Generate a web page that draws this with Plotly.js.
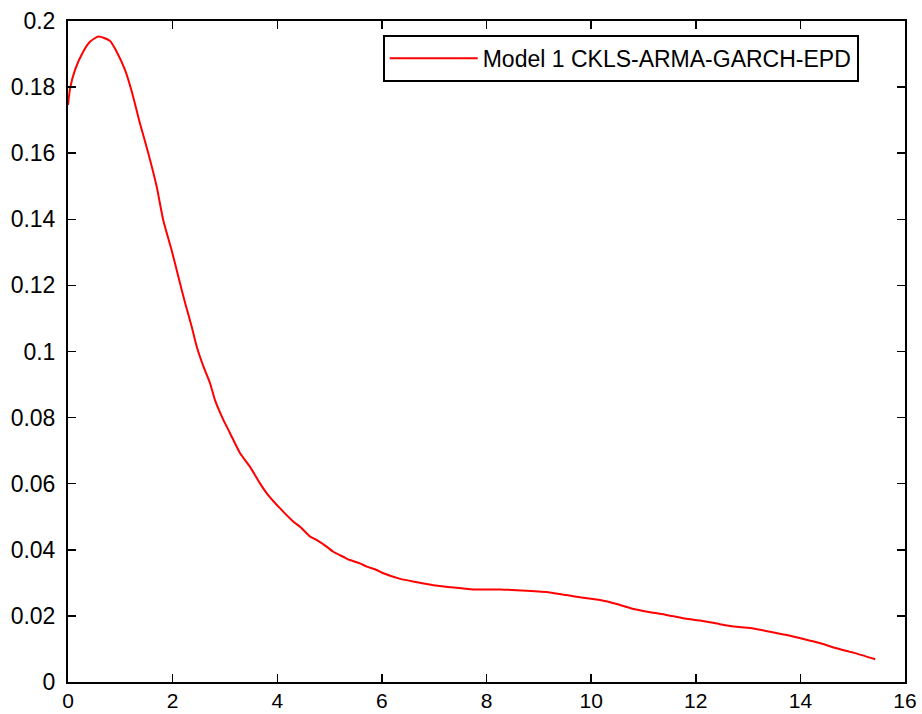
<!DOCTYPE html>
<html>
<head>
<meta charset="utf-8">
<script src="https://cdn.plot.ly/plotly-3.0.1.min.js"></script>
<style>html,body{margin:0;padding:0;background:#fff;}#chart{width:922px;height:714px;}</style>
</head>
<body>
<div id="chart"></div>
<script>
var seriesName = "Model 1 CKLS-ARMA-GARCH-EPD";
var xValues = [0, 0.04, 0.134, 0.29, 0.42, 0.58, 0.80, 0.93, 1.09, 1.22, 1.376, 1.535, 1.695, 1.82, 1.98, 2.11, 2.24, 2.365, 2.46, 2.59, 2.715, 2.81, 2.97, 3.10, 3.29, 3.48, 3.67, 3.80, 4.05, 4.31, 4.435, 4.63, 4.75, 4.95, 5.07, 5.26, 5.39, 5.58, 5.71, 5.90, 6.03, 6.35, 6.67, 6.98, 7.30, 7.75, 8.26, 8.77, 9.21, 9.53, 9.85, 10.17, 10.49, 10.81, 11.13, 11.44, 11.76, 12.08, 12.46, 12.78, 13.10, 13.42, 13.74, 14.06, 14.38, 14.69, 15.01, 15.43];
var yValues = [0.1746, 0.1796, 0.1852, 0.1907, 0.1937, 0.1953, 0.1940, 0.1907, 0.1852, 0.1786, 0.1690, 0.1600, 0.1499, 0.1398, 0.1307, 0.1226, 0.1146, 0.1075, 0.1015, 0.0954, 0.0904, 0.0853, 0.0793, 0.0752, 0.0692, 0.0651, 0.0601, 0.0571, 0.0526, 0.0485, 0.0470, 0.0440, 0.0430, 0.0409, 0.0394, 0.0379, 0.0369, 0.0359, 0.0349, 0.0339, 0.0329, 0.0312, 0.0302, 0.0293, 0.0287, 0.0280, 0.0280, 0.0276, 0.0271, 0.0263, 0.0255, 0.0248, 0.0236, 0.0221, 0.0211, 0.0203, 0.0193, 0.0186, 0.0175, 0.0167, 0.0162, 0.0152, 0.0142, 0.0130, 0.0117, 0.0102, 0.0089, 0.0069];
var xTickVals = [0, 2, 4, 6, 8, 10, 12, 14, 16];
var xTickText = ["0", "2", "4", "6", "8", "10", "12", "14", "16"];
var yTickVals = [0, 0.02, 0.04, 0.06, 0.08, 0.1, 0.12, 0.14, 0.16, 0.18, 0.2];
var yTickText = ["0", "0.02", "0.04", "0.06", "0.08", "0.1", "0.12", "0.14", "0.16", "0.18", "0.2"];

var trace = {
  x: xValues, y: yValues, type: "scatter", mode: "lines", name: seriesName,
  line: {color: "#ff0000", width: 2, shape: "spline", smoothing: 0.6}
};

var fontFamily = "Liberation Sans, Arial, sans-serif";

var axisCommon = {
  showgrid: false, zeroline: false, showline: true, linecolor: "#000", linewidth: 2,
  mirror: "allticks", ticks: "inside", ticklen: 8, tickwidth: 1.5, tickcolor: "#000",
  fixedrange: true
};

var layout = {
  width: 922, height: 714,
  margin: {l: 68, r: 17, t: 21, b: 32, pad: 0},
  paper_bgcolor: "#fff", plot_bgcolor: "#fff",
  font: {family: fontFamily, size: 23, color: "#000"},
  showlegend: true,
  legend: {
    x: 0.376, y: 0.979, xanchor: "left", yanchor: "top",
    bgcolor: "#fff", bordercolor: "#000", borderwidth: 2,
    font: {family: fontFamily, size: 23, color: "#000"},
    itemwidth: 88, entrywidth: 472
  },
  xaxis: Object.assign({}, axisCommon, {range: [0, 16], tickmode: "array", tickvals: xTickVals, ticktext: xTickText,
    tickfont: {family: fontFamily, size: 21, color: "#000"}, ticklabelstandoff: -1}),
  yaxis: Object.assign({}, axisCommon, {range: [0, 0.2], tickmode: "array", tickvals: yTickVals, ticktext: yTickText,
    tickfont: {family: fontFamily, size: 23, color: "#000"}, ticklabelstandoff: 6})
};

Plotly.newPlot("chart", [trace], layout, {displayModeBar: false, staticPlot: true});
</script>
</body>
</html>
